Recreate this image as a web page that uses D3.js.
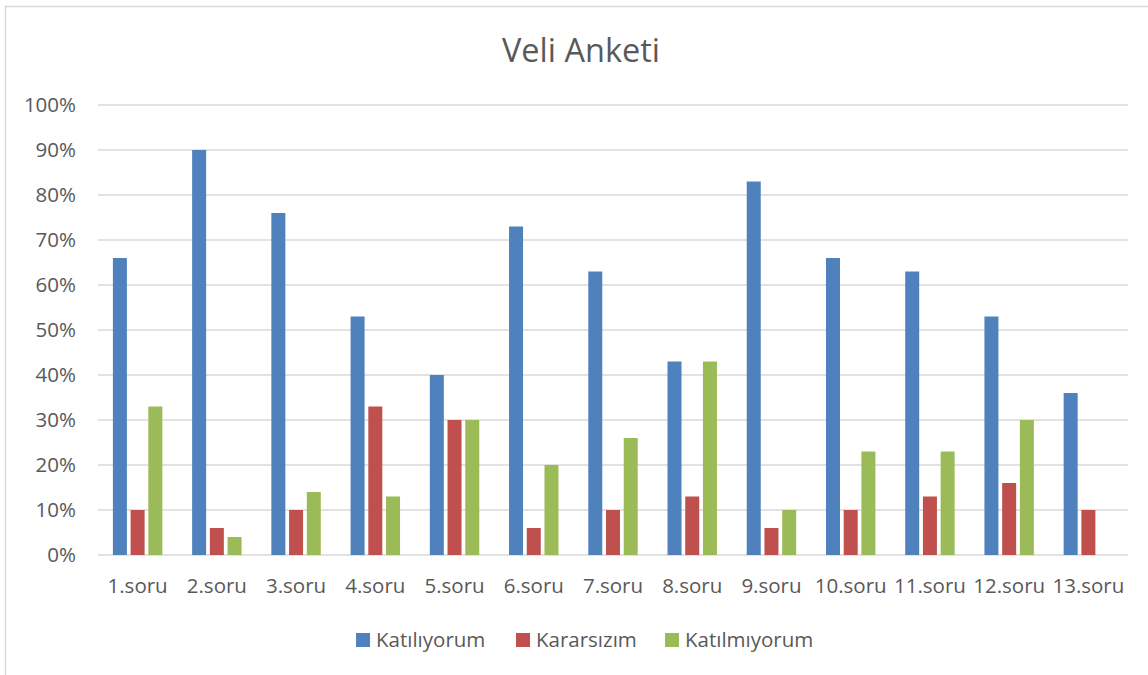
<!DOCTYPE html>
<html><head><meta charset="utf-8">
<script src="https://cdn.jsdelivr.net/npm/d3@7"></script>
<style>body{margin:0;background:#fff}svg{display:block}text{font-family:"Open Sans",Lato,sans-serif;fill:#595959}</style>
</head><body><svg id="c" width="1148" height="675"></svg>
<script>
const categories = ["1.soru","2.soru","3.soru","4.soru","5.soru","6.soru","7.soru","8.soru","9.soru","10.soru","11.soru","12.soru","13.soru"];
const seriesNames = ["Katılıyorum","Kararsızım","Katılmıyorum"];
const katiliyorum = [66,90,76,53,40,73,63,43,83,66,63,53,36];
const kararsizim = [10,6,10,33,30,6,10,13,6,10,13,16,10];
const katilmiyorum = [33,4,14,13,30,20,26,43,10,23,23,30,null];
const colors = ["#4f81bd","#c0504d","#9bbb59"];
const yTicks = [0,10,20,30,40,50,60,70,80,90,100];

const series = [katiliyorum, kararsizim, katilmiyorum];
const svg = d3.select("#c");
svg.append("rect").attr("x",5.5).attr("y",6.5).attr("width",1300).attr("height",800)
  .attr("fill","#fff").attr("stroke","#d9d9d9").attr("stroke-width",1.5);

const L=98, R=1128, T=105, B=555;
const x0 = d3.scaleBand().domain(categories).range([L,R]).paddingInner(0).paddingOuter(0);
const gw = x0.bandwidth()*0.624;
const x1 = d3.scaleBand().domain(d3.range(3)).range([-gw/2, gw/2]).paddingInner(0.21).paddingOuter(0);
const y = d3.scaleLinear().domain([0,100]).range([B,T]);

svg.append("g").selectAll("line").data(yTicks).join("line")
  .attr("x1",L).attr("x2",R).attr("y1",d=>y(d)).attr("y2",d=>y(d))
  .attr("stroke","#d9d9d9").attr("stroke-width",1.5);

svg.append("g").selectAll("text").data(yTicks).join("text")
  .attr("x",76).attr("y",d=>y(d)).attr("dy","0.36em").attr("text-anchor","end")
  .attr("font-size",20.5).text(d=>d+"%");

const g = svg.append("g");
series.forEach((vals,si)=>{
  g.append("g").selectAll("rect").data(categories.map((c,i)=>({c,v:vals[i]})).filter(d=>d.v!=null)).join("rect")
   .attr("x",d=>x0(d.c)+x0.bandwidth()/2+x1(si))
   .attr("width",x1.bandwidth())
   .attr("y",d=>y(d.v)).attr("height",d=>B-y(d.v))
   .attr("fill",colors[si]);
});

svg.append("g").selectAll("text").data(categories).join("text")
  .attr("x",d=>x0(d)+x0.bandwidth()/2).attr("y",593).attr("text-anchor","middle")
  .attr("font-size",20.5).text(d=>d);

svg.append("text").attr("x",581).attr("y",62).attr("text-anchor","middle")
  .attr("font-size",32.5).text("Veli Anketi");

const legX=[356,516,665];
const lg = svg.append("g");
seriesNames.forEach((n,i)=>{
  lg.append("rect").attr("x",legX[i]).attr("y",633).attr("width",14).attr("height",14).attr("fill",colors[i]);
  lg.append("text").attr("x",legX[i]+20).attr("y",640).attr("dy","0.36em").attr("font-size",20.5).text(n);
});
</script></body></html>
